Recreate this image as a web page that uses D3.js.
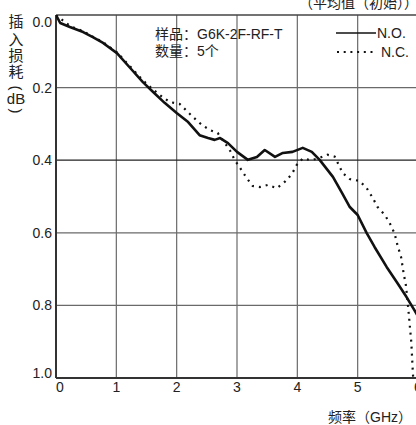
<!DOCTYPE html>
<html lang="zh">
<head>
<meta charset="utf-8">
<script src="https://cdn.jsdelivr.net/npm/d3@7"></script>
<style>
  body { margin: 0; background: #fff; }
  text { font-family: "Liberation Sans", Arial, sans-serif; fill: #222; }
  .cjk { font-family: "Liberation Sans", "Noto Sans CJK SC", sans-serif; }
</style>
</head>
<body>
<div id="chart"></div>
<script>
// tick labels
const xTicks = [0, 1, 2, 3, 4, 5, 6]
const yTicks = [0.0, 0.2, 0.4, 0.6, 0.8, 1.0]

// N.O. (solid)
const freqNO = [0, 0.07, 0.23, 0.45, 0.61, 0.78, 1.01, 1.23, 1.44, 1.61, 1.80, 2.00, 2.19, 2.38, 2.52, 2.63, 2.72, 2.85, 3.00, 3.18, 3.33, 3.46, 3.63, 3.76, 3.92, 4.09, 4.24, 4.37, 4.59, 4.74, 4.87, 5.00, 5.15, 5.28, 5.48, 5.65, 5.81, 5.94, 6.00]
const lossNO = [0, 0.022, 0.033, 0.047, 0.061, 0.077, 0.105, 0.146, 0.185, 0.212, 0.242, 0.270, 0.295, 0.331, 0.339, 0.344, 0.339, 0.353, 0.377, 0.399, 0.391, 0.372, 0.391, 0.380, 0.377, 0.366, 0.377, 0.399, 0.446, 0.490, 0.529, 0.551, 0.601, 0.639, 0.694, 0.736, 0.777, 0.813, 0.83]

// N.C. (dotted)
const freqNC = [0, 0.23, 0.45, 0.78, 1.01, 1.23, 1.44, 1.62, 1.78, 1.89, 2.05, 2.27, 2.42, 2.55, 2.68, 2.88, 2.96, 3.05, 3.16, 3.26, 3.38, 3.51, 3.66, 3.79, 3.91, 3.99, 4.09, 4.22, 4.35, 4.50, 4.62, 4.75, 4.87, 5.03, 5.15, 5.25, 5.33, 5.45, 5.53, 5.61, 5.66, 5.72, 5.76, 5.80, 5.83, 5.86, 5.89, 5.91, 5.92]
const lossNC = [0, 0.03, 0.045, 0.075, 0.103, 0.142, 0.180, 0.207, 0.228, 0.240, 0.245, 0.281, 0.303, 0.317, 0.325, 0.372, 0.399, 0.421, 0.449, 0.471, 0.474, 0.468, 0.477, 0.460, 0.438, 0.413, 0.395, 0.400, 0.395, 0.385, 0.390, 0.435, 0.452, 0.457, 0.477, 0.504, 0.529, 0.551, 0.573, 0.601, 0.634, 0.667, 0.710, 0.745, 0.793, 0.848, 0.904, 0.970, 1.0]

const width = 416
const height = 425
const mLeft = 56, mRight = 418, mTop = 15, mBottom = 378

const x = d3.scaleLinear().domain([0, 6]).range([mLeft, mRight])
const y = d3.scaleLinear().domain([0, 1]).range([mTop, mBottom])

const svg = d3.select("#chart").append("svg")
    .attr("width", width)
    .attr("height", height)

svg.append("clipPath").attr("id", "plot")
  .append("rect")
    .attr("x", mLeft).attr("y", mTop)
    .attr("width", mRight - mLeft).attr("height", mBottom - mTop)

// grid
svg.append("g")
  .selectAll("line")
  .data(xTicks.slice(1, -1))
  .join("line")
    .attr("x1", d => x(d)).attr("x2", d => x(d))
    .attr("y1", mTop).attr("y2", mBottom)
    .attr("stroke", "#6a6a6a")
    .attr("stroke-width", 1.2)

svg.append("g")
  .selectAll("line")
  .data(yTicks.slice(1, -1))
  .join("line")
    .attr("x1", mLeft).attr("x2", mRight)
    .attr("y1", d => y(d)).attr("y2", d => y(d))
    .attr("stroke", d => d == 0.4 ? "#222" : "#6a6a6a")
    .attr("stroke-width", 1.2)

// frame
svg.append("line")
    .attr("x1", mLeft).attr("x2", mRight)
    .attr("y1", mTop).attr("y2", mTop)
    .attr("stroke", "#444").attr("stroke-width", 1.5)
svg.append("line")
    .attr("x1", mLeft).attr("x2", mLeft)
    .attr("y1", mTop).attr("y2", mBottom)
    .attr("stroke", "#333").attr("stroke-width", 2)
svg.append("line")
    .attr("x1", mLeft).attr("x2", mRight)
    .attr("y1", mBottom).attr("y2", mBottom)
    .attr("stroke", "#333").attr("stroke-width", 2)

// tick labels
svg.append("g")
  .selectAll("text")
  .data(yTicks)
  .join("text")
    .attr("x", mLeft - 4)
    .attr("y", d => y(d) + (d == 0 ? 7 : d == 1 ? -5 : 0))
    .attr("dy", "0.35em")
    .attr("text-anchor", "end")
    .style("font-size", "14px")
    .text(d => d.toFixed(1))

svg.append("g")
  .selectAll("text")
  .data(xTicks)
  .join("text")
    .attr("x", d => x(d) + (d == 0 ? 4 : 0))
    .attr("y", mBottom + 14)
    .attr("text-anchor", "middle")
    .style("font-size", "14px")
    .text(d => d)

// lines
const line = d3.line().x(d => x(d[0])).y(d => y(d[1]))

svg.append("path")
    .datum(d3.zip(freqNO, lossNO))
    .attr("clip-path", "url(#plot)")
    .attr("fill", "none")
    .attr("stroke", "#111")
    .attr("stroke-width", 2.6)
    .attr("stroke-linejoin", "round")
    .attr("d", line)

svg.append("path")
    .datum(d3.zip(freqNC, lossNC))
    .attr("clip-path", "url(#plot)")
    .attr("fill", "none")
    .attr("stroke", "#111")
    .attr("stroke-width", 2.2)
    .attr("stroke-dasharray", "2,5")
    .attr("d", line)

// legend
svg.append("text").attr("class", "cjk")
    .attr("x", 155).attr("y", 39)
    .style("font-size", "14px")
    .text("样品：G6K-2F-RF-T")
svg.append("text").attr("class", "cjk")
    .attr("x", 155).attr("y", 56)
    .style("font-size", "14px")
    .text("数量：5个")

svg.append("line")
    .attr("x1", 336).attr("x2", 376).attr("y1", 33).attr("y2", 33)
    .attr("stroke", "#111").attr("stroke-width", 1.5)
svg.append("text")
    .attr("x", 377).attr("y", 38)
    .style("font-size", "14px")
    .text("N.O.")
svg.append("line")
    .attr("x1", 337).attr("x2", 376).attr("y1", 52).attr("y2", 52)
    .attr("stroke", "#111").attr("stroke-width", 2)
    .attr("stroke-dasharray", "2,4.7")
svg.append("text")
    .attr("x", 381).attr("y", 57)
    .style("font-size", "14px")
    .text("N.C.")

// titles
svg.append("text").attr("class", "cjk")
    .attr("x", 418).attr("y", 8)
    .attr("text-anchor", "end")
    .style("font-size", "14px")
    .text("（平均值（初始））")

svg.append("text").attr("class", "cjk")
    .attr("x", 328).attr("y", 422)
    .style("font-size", "14px")
    .text("频率（GHz）")

// vertical y title, brackets turned sideways
const yTitle = ["插", "入", "损", "耗", "(", "dB", ")"]
const yTitlePos = [22, 40, 56, 72, 88, 99, 111]
svg.append("g")
  .selectAll("text")
  .data(yTitle)
  .join("text")
    .attr("class", "cjk")
    .attr("x", 16)
    .attr("y", (d, i) => yTitlePos[i])
    .attr("dy", "0.35em")
    .attr("text-anchor", "middle")
    .attr("transform", (d, i) => (d == "(" || d == ")") ? `rotate(90,16,${yTitlePos[i]})` : null)
    .style("font-size", "15px")
    .text(d => d)
</script>
</body>
</html>
